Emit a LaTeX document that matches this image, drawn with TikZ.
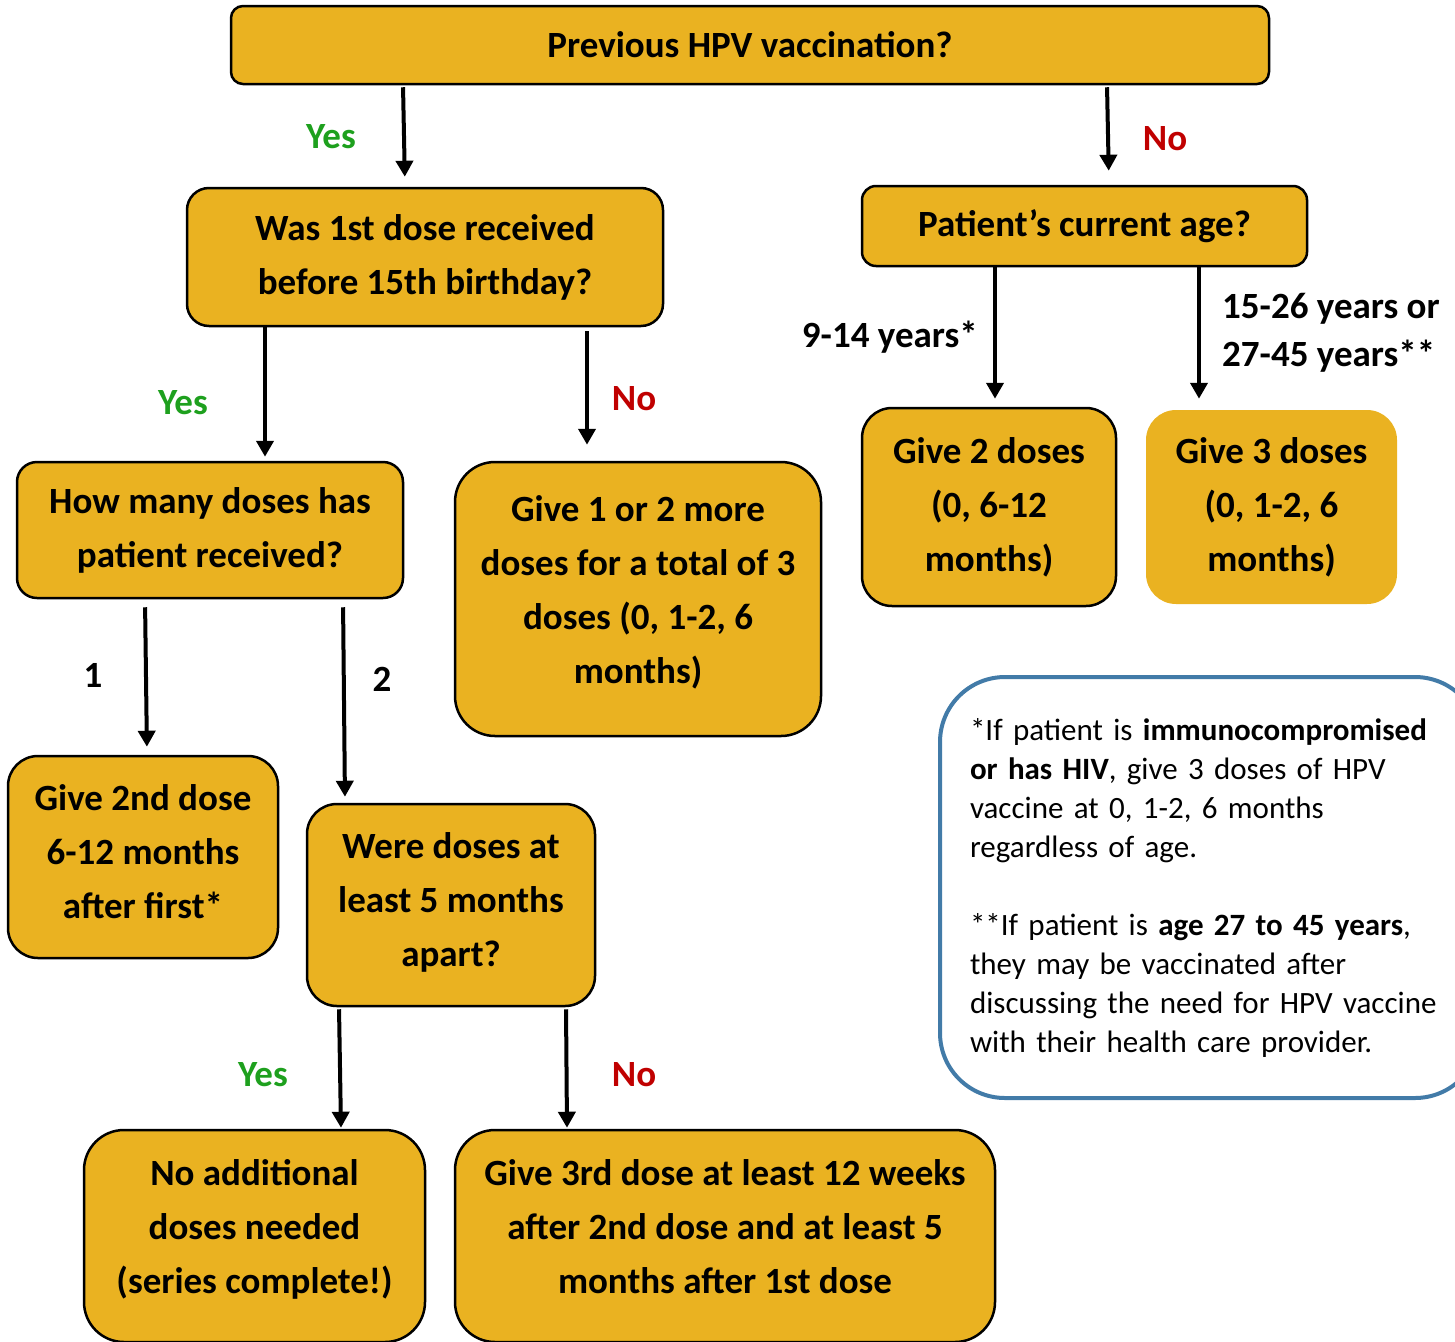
\documentclass[tikz,border=0pt]{standalone}
\usepackage{fontspec}
\setmainfont{Carlito}
\usetikzlibrary{arrows.meta}
\definecolor{gold}{RGB}{234,178,33}
\definecolor{yesgreen}{RGB}{30,160,30}
\definecolor{nored}{RGB}{192,0,0}
\definecolor{noteblue}{RGB}{66,123,168}
\tikzset{
  box/.style={draw=black, line width=2.5pt, fill=gold, align=center, inner sep=0pt,
    font=\fontsize{37}{54}\selectfont\bfseries},
  plainbox/.style={box, draw=none},
  arr/.style={line width=4pt, -{Triangle[width=17pt,length=16pt]}},
  lbl/.style={font=\fontsize{37}{48}\selectfont\bfseries, inner sep=0pt},
  yes/.style={lbl, text=yesgreen},
  no/.style={lbl, text=nored},
  notebox/.style={draw=noteblue, line width=4pt, fill=white, rounded corners=65pt,
    align=left, text width=480pt, inner xsep=30pt, inner ysep=0pt, font=\fontsize{31}{39}\selectfont}
}
\begin{document}
\begin{tikzpicture}[x=1pt,y=-1pt]
\useasboundingbox (0,0) rectangle (1455,1341);
\clip (0,0) rectangle (1455,1341);

\node[box, rounded corners=12pt, minimum width=1038pt, minimum height=78pt] (top) at (750,45) {Previous HPV vaccination?};
\node[box, rounded corners=22pt, minimum width=476pt, minimum height=138pt] (q15) at (425,257) {Was 1st dose received\\before 15th birthday?};
\node[box, rounded corners=14pt, minimum width=445pt, minimum height=80pt] (age) at (1084.5,226) {Patient’s current age?};
\node[box, rounded corners=20pt, minimum width=386pt, minimum height=136pt] (many) at (210,530) {How many doses has\\patient received?};
\node[box, rounded corners=40pt, minimum width=366pt, minimum height=274pt, text depth=19pt] (more) at (638,599) {Give 1 or 2 more\\doses for a total of 3\\doses (0, 1-2, 6\\months)};
\node[box, rounded corners=30pt, minimum width=254pt, minimum height=198pt] (two) at (989,507) {Give 2 doses\\(0, 6-12\\months)};
\node[plainbox, rounded corners=30pt, minimum width=251pt, minimum height=194pt] (three) at (1271.5,507) {Give 3 doses\\(0, 1-2, 6\\months)};
\node[box, rounded corners=30pt, minimum width=270pt, minimum height=202pt, text depth=11pt] (second) at (143,857) {Give 2nd dose\\6-12 months\\after first*};
\node[box, rounded corners=30pt, minimum width=288pt, minimum height=202pt, text depth=11pt] (apart) at (451,905) {Were doses at\\least 5 months\\apart?};
\node[box, rounded corners=40pt, minimum width=341pt, minimum height=212pt, text depth=20pt] (noadd) at (254.5,1236) {No additional\\doses needed\\(series complete!)};
\node[box, rounded corners=40pt, minimum width=540pt, minimum height=212pt, text depth=20pt] (third) at (725,1236) {Give 3rd dose at least 12 weeks\\after 2nd dose and at least 5\\months after 1st dose};

\node[notebox, minimum width=537pt, minimum height=421pt, anchor=west] (note) at (938,887.5) {*If patient is \textbf{immunocompromised}\\\textbf{or has HIV}, give 3 doses of HPV\\vaccine at 0, 1-2, 6 months\\regardless of age.\\[39pt]**If patient is \textbf{age 27 to 45 years},\\they may be vaccinated after\\discussing the need for HPV vaccine\\with their health care provider.};

% arrows
\draw[arr, shorten <=2pt, shorten >=10pt] ([xshift=-347pt]top.south) -- ([xshift=-20pt]q15.north);
\draw[arr, shorten <=2pt, shorten >=14pt] ([xshift=357pt]top.south) -- ([xshift=24.5pt]age.north);
\draw[arr, shorten >=4pt] ([xshift=-160pt]q15.south) -- ([xshift=55pt]many.north);
\draw[arr, shorten <=4pt, shorten >=16pt] ([xshift=162pt]q15.south) -- ([xshift=-51pt]more.north);
\draw[arr, shorten >=8pt] ([xshift=-89.5pt]age.south) -- ([xshift=6pt]two.north);
\draw[arr, shorten >=10pt] ([xshift=114.5pt]age.south) -- ([xshift=-72.5pt]three.north);
\draw[arr, shorten <=8pt, shorten >=8pt] ([xshift=-65pt]many.south) -- ([xshift=4pt]second.north);
\draw[arr, shorten <=8pt, shorten >=6pt] ([xshift=133pt]many.south) -- ([xshift=-106pt]apart.north);
\draw[arr, shorten <=2pt, shorten >=1pt] ([xshift=-112pt]apart.south) -- ([xshift=86.5pt]noadd.north);
\draw[arr, shorten <=2pt, shorten >=1pt] ([xshift=115pt]apart.south) -- ([xshift=-158pt]third.north);

% labels
\node[yes] (l1) at (331,137) {Yes};
\node[no] (l2) at (1165,139) {No};
\node[yes] (l3) at (183,403) {Yes};
\node[no] (l4) at (634,399) {No};
\node[lbl, anchor=east] (l5) at (978,337) {9-14 years*};
\node[lbl, anchor=west, align=left] (l6) at (1222,333) {15-26 years or\\27-45 years**};
\node[lbl] (l7) at (93,675) {1};
\node[lbl] (l8) at (382,679) {2};
\node[yes] (l9) at (263,1075) {Yes};
\node[no] (l10) at (634,1075) {No};
\end{tikzpicture}
\end{document}
